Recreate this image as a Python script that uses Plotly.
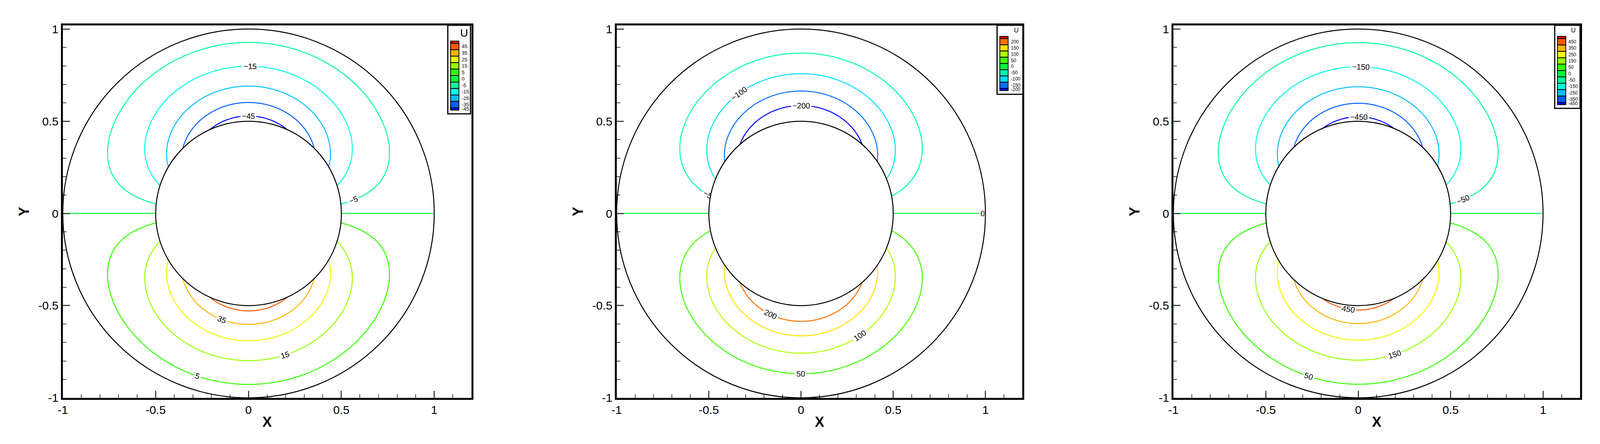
import numpy as np
import plotly.graph_objects as go

# Field strength per panel (U = -C * sin(theta) * (1/r - r) between r=0.5 and r=1)
strengths = [33.0, 178.0, 325.0]
levels = [
    [45, 35, 25, 15, 5, 0, -5, -15, -25, -35, -45],
    [200, 150, 100, 50, 0, -50, -100, -150, -200],
    [450, 350, 250, 150, 50, 0, -50, -150, -250, -350, -450],
]
block_colors = [
    ["#ff0000", "#ff5a00", "#ffb400", "#eeff00", "#99ff00", "#33ff00", "#00ff33", "#00ff99", "#00ffe6", "#00c0ff", "#0060ff", "#0000ff"],
    ["#ff0000", "#ff7000", "#ffe000", "#b0ff00", "#40ff00", "#00ff40", "#00ffb0", "#00e0ff", "#0070ff", "#0000ff"],
    ["#ff0000", "#ff5a00", "#ffb400", "#eeff00", "#99ff00", "#33ff00", "#00ff33", "#00ff99", "#00ffe6", "#00c0ff", "#0060ff", "#0000ff"],
]
legend_title = "U"
x_ticks = [-1, -0.5, 0, 0.5, 1]
y_ticks = [-1, -0.5, 0, 0.5, 1]
r_inner, r_outer = 0.5, 1.0

x = np.round(np.linspace(-1.0, 1.2, 331), 4)
y = np.round(np.linspace(-1.0, 1.0, 300), 4)
X, Y = np.meshgrid(x, y)
R = np.sqrt(X**2 + Y**2)
S = Y / np.maximum(R, 1e-9)

domains = [[0.0371, 0.2911], [0.3814, 0.6336], [0.7275, 0.9803]]
leg_boxes = [(1.073, 1.195, 0.54), (1.063, 1.203, 0.646), (1.063, 1.2, 0.57)]
lblfont = dict(size=20, color="black", family="Liberation Sans")

fig = go.Figure()
shapes, annos = [], []
for p in range(3):
    ax = "" if p == 0 else str(p + 1)
    xa, ya = "x" + ax, "y" + ax
    Z = -strengths[p] * S * (1.0 / np.maximum(R, 1e-9) - R)
    Z = np.where((R >= r_inner - 0.01) & (R <= r_outer), np.round(Z, 3), np.nan)
    lv = levels[p]
    cols = block_colors[p][1:]
    uni = [v for v in lv if v != 0] if len(lv) == 11 else lv
    ucols = [c for v, c in zip(lv, cols) if v in uni]
    lo, hi = min(uni), max(uni)
    step = (hi - lo) / (len(uni) - 1)
    cs = [[(v - lo) / (hi - lo), c] for v, c in sorted(zip(uni, ucols))]
    fig.add_trace(go.Contour(
        x=x, y=y, z=Z, xaxis=xa, yaxis=ya, showscale=False, zmin=lo, zmax=hi,
        autocontour=False, contours=dict(start=lo, end=hi, size=step, coloring="lines",
                                         showlabels=True, labelfont=lblfont),
        colorscale=cs, line=dict(width=2.5), hoverinfo="skip"))
    if len(uni) != len(lv):
        c0 = cols[lv.index(0)]
        fig.add_trace(go.Contour(
            x=x, y=y, z=Z, xaxis=xa, yaxis=ya, showscale=False,
            autocontour=False, contours=dict(start=0, end=0, size=1, coloring="lines",
                                             showlabels=True, labelfont=lblfont),
            colorscale=[[0, c0], [1, c0]], line=dict(width=2.5), hoverinfo="skip"))
    for r, fill in [(r_outer, "rgba(0,0,0,0)"), (r_inner, "white")]:
        shapes.append(dict(type="circle", xref=xa, yref=ya, x0=-r, x1=r, y0=-r, y1=r,
                           line=dict(color="black", width=2.5), fillcolor=fill, layer="above"))
    # legend
    x0, x1, yb = leg_boxes[p]
    shapes.append(dict(type="rect", xref=xa, yref=ya, x0=x0, x1=x1, y0=yb, y1=1.02,
                       line=dict(color="black", width=3), fillcolor="white", layer="above"))
    nb = len(block_colors[p])
    top = 1.02 - (0.085 if p == 0 else 0.06)
    bot = yb + 0.02
    h = (top - bot) / (nb - 1 - 0.3)
    bounds = [top, top - 0.35 * h]
    for k in range(1, nb - 1):
        bounds.append(bounds[-1] - h)
    bounds.append(bounds[-1] - 0.35 * h)
    sx0 = x0 + 0.015
    sx1 = sx0 + 0.045
    for k in range(nb):
        shapes.append(dict(type="rect", xref=xa, yref=ya, x0=sx0, x1=sx1, y0=bounds[k + 1], y1=bounds[k],
                           line=dict(color="black", width=2), fillcolor=block_colors[p][k], layer="above"))
        if k >= 1:
            annos.append(dict(xref=xa, yref=ya, x=sx1 + 0.01, y=(bounds[k] + bounds[k + 1]) / 2,
                              text=str(levels[p][k - 1]), showarrow=False, xanchor="left",
                              font=dict(size=13 if p == 0 else 12, family="Liberation Sans", color="black")))
    annos.append(dict(xref=xa, yref=ya, x=x1 - 0.035, y=1.02 - 0.004, yanchor="top", xanchor="center",
                      text=legend_title, showarrow=False,
                      font=dict(size=28 if p == 0 else 16, family="Liberation Sans", color="black")))

layout = dict(width=4118, height=1136, paper_bgcolor="white", plot_bgcolor="white",
              margin=dict(l=0, r=0, t=0, b=0), showlegend=False, shapes=shapes, annotations=annos)
for p in range(3):
    ax = "" if p == 0 else str(p + 1)
    common = dict(ticks="inside", ticklen=18, tickwidth=3, automargin=False,
                  minor=dict(dtick=0.1, ticks="inside", ticklen=9, tickwidth=2),
                  showline=True, linewidth=5, linecolor="black", mirror=True,
                  showgrid=False, zeroline=False,
                  tickfont=dict(size=30, family="Liberation Sans Narrow, Liberation Sans", color="black"))
    layout["xaxis" + ax] = dict(domain=domains[p], range=[-1, 1.2], tickvals=x_ticks,
                                ticktext=[f"{t:g}" for t in x_ticks], anchor="y" + ax,
                                title=dict(text="<b>X</b>", standoff=4,
                                           font=dict(size=36, family="Liberation Sans", color="black")), **common)
    layout["yaxis" + ax] = dict(domain=[0.111, 0.95], range=[-1, 1.02], tickvals=y_ticks,
                                ticktext=[f"{t:g}" for t in y_ticks], anchor="x" + ax,
                                title=dict(text="<b>Y</b>", standoff=14,
                                           font=dict(size=36, family="Liberation Sans", color="black")), **common)
fig.update_layout(**layout)
fig.write_html("out.html")
